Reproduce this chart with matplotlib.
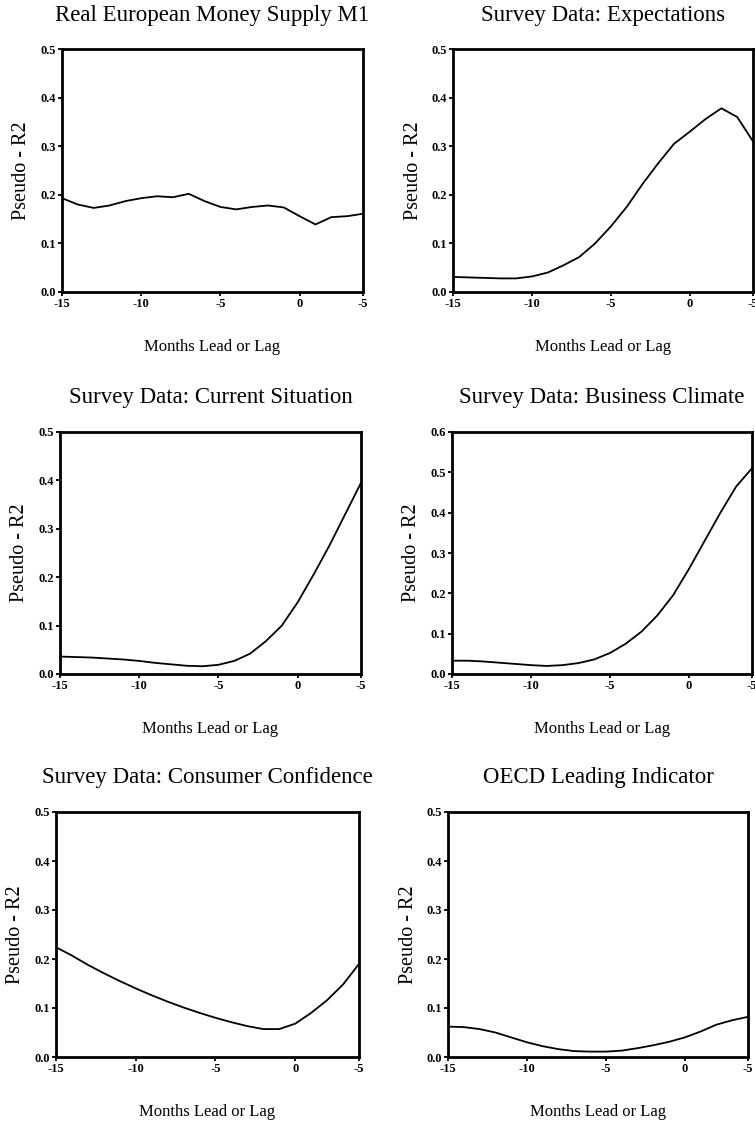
import matplotlib
matplotlib.use('Agg')
import matplotlib.pyplot as plt
import numpy as np

plt.rcParams['font.family'] = ['Liberation Serif', 'DejaVu Serif']

months = list(range(-15, 5))
tick_pos = [-15, -10, -5, 0, 4]
tick_labels = ['-15', '-10', '-5', '0', '-5']

titles = ['Real European Money Supply M1', 'Survey Data: Expectations',
          'Survey Data: Current Situation', 'Survey Data: Business Climate',
          'Survey Data: Consumer Confidence', 'OECD Leading Indicator']

money_m1 = [0.193, 0.180, 0.173, 0.178, 0.187, 0.193, 0.197, 0.195, 0.202, 0.187,
            0.175, 0.170, 0.175, 0.178, 0.174, 0.156, 0.139, 0.154, 0.156, 0.161]
expectations = [0.031, 0.030, 0.029, 0.028, 0.028, 0.032, 0.040, 0.055, 0.072, 0.100,
                0.135, 0.175, 0.222, 0.265, 0.305, 0.330, 0.356, 0.378, 0.360, 0.310]
current_sit = [0.036, 0.035, 0.034, 0.032, 0.030, 0.027, 0.023, 0.020, 0.017, 0.016,
               0.019, 0.027, 0.042, 0.068, 0.100, 0.148, 0.205, 0.265, 0.330, 0.395]
business = [0.033, 0.033, 0.031, 0.028, 0.025, 0.022, 0.020, 0.022, 0.027, 0.036,
            0.052, 0.075, 0.105, 0.145, 0.195, 0.260, 0.330, 0.400, 0.465, 0.510]
consumer = [0.224, 0.207, 0.188, 0.171, 0.155, 0.140, 0.126, 0.113, 0.101, 0.090,
            0.080, 0.071, 0.063, 0.057, 0.057, 0.068, 0.090, 0.116, 0.148, 0.190]
oecd = [0.062, 0.061, 0.057, 0.050, 0.040, 0.030, 0.022, 0.016, 0.012, 0.011,
        0.011, 0.013, 0.018, 0.024, 0.031, 0.040, 0.052, 0.066, 0.075, 0.082]

series = [money_m1, expectations, current_sit, business, consumer, oecd]
y_max = [0.5, 0.5, 0.5, 0.6, 0.5, 0.5]

# axes boxes in pixels: left, right, top, bottom
boxes = [(62, 363, 49, 292), (453, 753, 49, 292),
         (60, 361, 432, 674), (452, 752, 432, 674),
         (56, 359, 812, 1057), (448, 748, 812, 1057)]

W, H = 755, 1122
fig = plt.figure(figsize=(W / 100, H / 100), dpi=100)

for i in range(6):
    l, r, t, b = boxes[i]
    w, h = r - l, b - t
    ax = fig.add_axes([l / W, 1 - b / H, w / W, h / H])
    ax.plot(months, series[i], color='black', linewidth=1.3)
    ax.set_xlim(-15, 4)
    ax.set_ylim(0, y_max[i])
    ax.set_xticks(tick_pos)
    ax.set_xticklabels(tick_labels)
    yt = np.arange(0, y_max[i] + 0.01, 0.1)
    ax.set_yticks(yt)
    ax.set_yticklabels(['%.1f' % v for v in yt])
    ax.tick_params(direction='out', length=3, width=1.3, labelsize=9, pad=1.5)
    for lab in ax.get_xticklabels() + ax.get_yticklabels():
        lab.set_fontweight('bold')
    for sp in ax.spines.values():
        sp.set_linewidth(2)
    ax.text(0.5, 1 + 34 / h, titles[i], transform=ax.transAxes,
            ha='center', va='center', fontsize=16.5)
    ax.set_ylabel('Pseudo - R2', fontsize=14.5, va='center')
    ax.yaxis.set_label_coords(-40 / w, 0.5)
    ax.set_xlabel('Months Lead or Lag', fontsize=12, va='center')
    ax.xaxis.set_label_coords(0.5, -55 / h)

fig.savefig('out.png', dpi=100)
